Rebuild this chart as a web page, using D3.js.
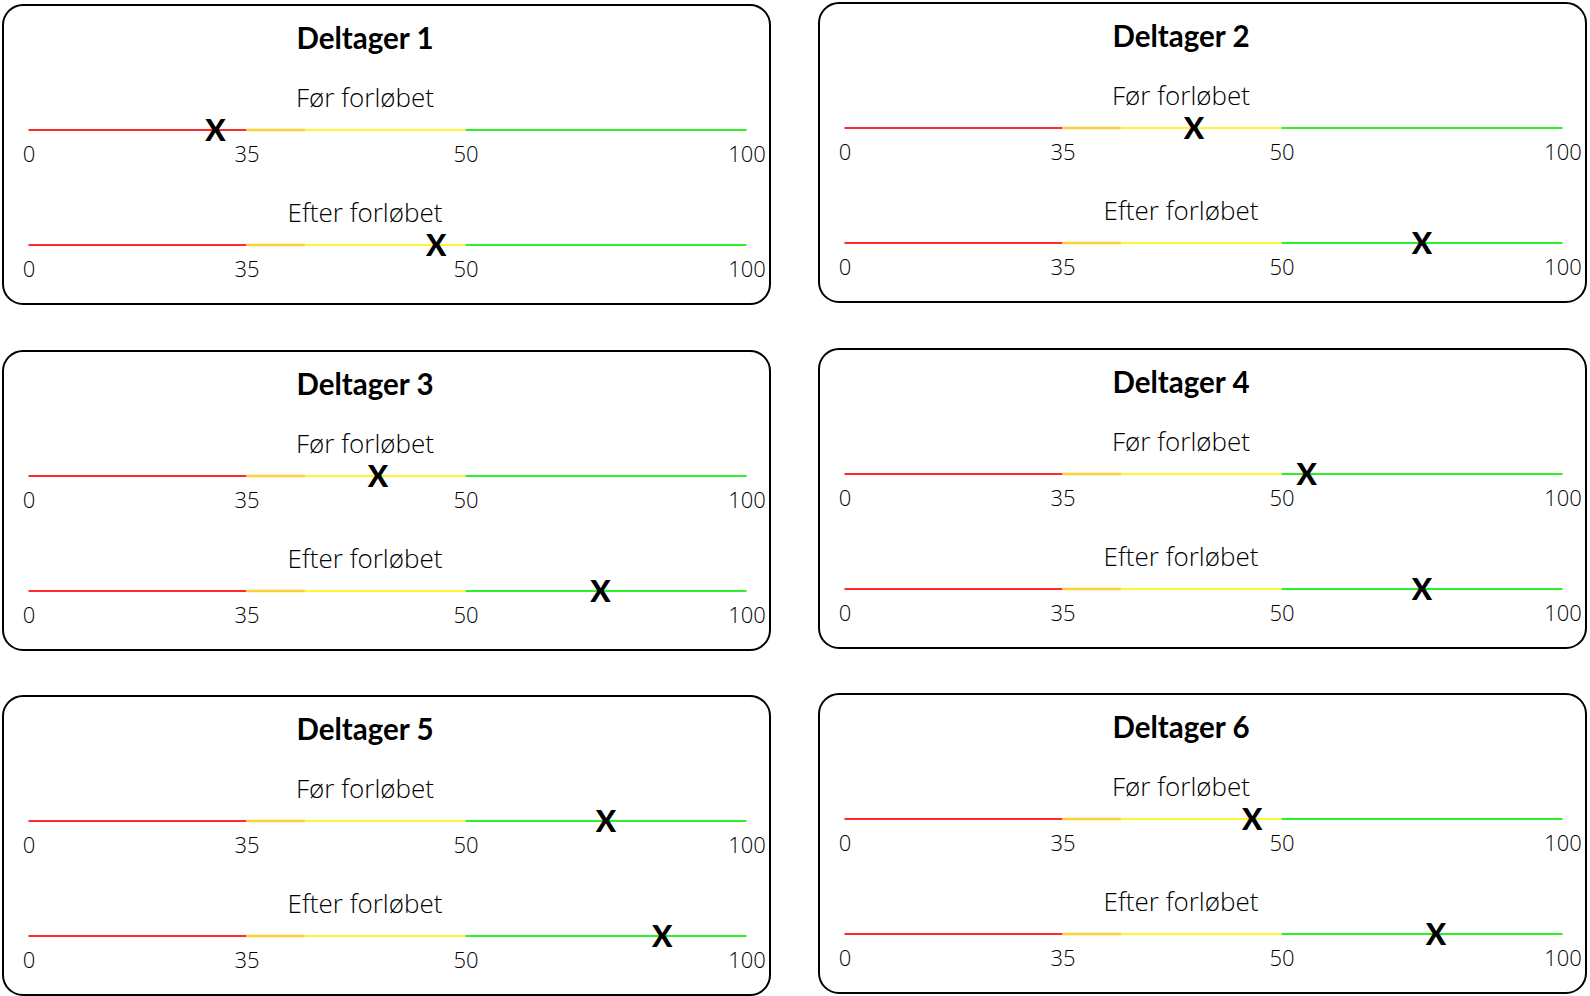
<!DOCTYPE html>
<html>
<head>
<meta charset="utf-8">
<script src="https://cdn.jsdelivr.net/npm/d3@7"></script>
<style>
  html, body { margin: 0; padding: 0; background: #ffffff; }
  svg { display: block; }
</style>
</head>
<body>
<svg id="chart" width="1590" height="996"></svg>
<script>
// ---- data ----
const participants = ["Deltager 1", "Deltager 2", "Deltager 3", "Deltager 4", "Deltager 5", "Deltager 6"];
const rowLabels = ["Før forløbet", "Efter forløbet"];
const beforeValues = [30, 44, 44, 54.5, 75, 48];
const afterValues = [48, 75, 74, 75, 85, 77.5];
const tickValues = [0, 35, 50, 100];
const zoneStarts = [0, 35, 39, 50];
const zoneEnds = [35, 39, 50, 100];
const zoneColors = ["#ff2a2a", "#ffcf3a", "#fff530", "#2cf02c"];

// ---- layout ----
const W = 1590, H = 996;
const colX = [3, 819];
const colTops = [[5, 351, 696], [3, 349, 694]];
const boxW = 767, boxH = 299;
const lineX0 = 25.5;
const scaleRange = [0, 218, 437, 718];
const rowLineY = [125, 240];
const titleFont = "Lato, 'Open Sans', sans-serif";
const textFont = "'Open Sans', Lato, sans-serif";

const svg = d3.select("#chart");
const x = d3.scaleLinear().domain(tickValues).range(scaleRange);

participants.forEach((name, i) => {
  const col = i % 2, row = Math.floor(i / 2);
  const gx = colX[col], gy = colTops[col][row];
  const g = svg.append("g").attr("transform", `translate(${gx},${gy})`);

  g.append("rect")
    .attr("x", 0).attr("y", 0)
    .attr("width", boxW).attr("height", boxH)
    .attr("rx", 20).attr("ry", 20)
    .attr("fill", "none").attr("stroke", "#000").attr("stroke-width", 2);

  g.append("text")
    .attr("x", 362).attr("y", 44)
    .attr("text-anchor", "middle")
    .attr("font-family", titleFont).attr("font-weight", 700)
    .attr("font-size", 29.5).attr("fill", "#000")
    .text(name);

  const vals = [beforeValues[i], afterValues[i]];
  rowLabels.forEach((lab, r) => {
    const ly = rowLineY[r];
    const rg = g.append("g").attr("transform", `translate(${lineX0},${ly})`);

    g.append("text")
      .attr("x", 362).attr("y", ly - 23)
      .attr("text-anchor", "middle")
      .attr("font-family", textFont).attr("font-weight", 300)
      .attr("font-size", 26).attr("fill", "#000")
      .text(lab);

    rg.selectAll("line.zone")
      .data(zoneStarts.map((s, k) => ({ s, e: zoneEnds[k], c: zoneColors[k] })))
      .join("line")
      .attr("class", "zone")
      .attr("x1", d => x(d.s)).attr("x2", d => x(d.e))
      .attr("y1", 0).attr("y2", 0)
      .attr("stroke", d => d.c)
      .attr("stroke-width", (d, k) => k === 1 ? 2.6 : 2.2);

    const axis = d3.axisBottom(x).tickValues(tickValues).tickSize(0).tickPadding(0).tickFormat(d3.format("d"));
    const ag = rg.append("g").call(axis);
    ag.select(".domain").remove();
    ag.selectAll("text")
      .attr("font-family", textFont).attr("font-size", 22).attr("font-weight", 300)
      .attr("fill", "#000")
      .attr("dy", null).attr("y", 32);

    rg.append("text")
      .attr("x", x(vals[r])).attr("y", 0)
      .attr("dy", "0.36em")
      .attr("text-anchor", "middle")
      .attr("font-family", titleFont).attr("font-weight", 900)
      .attr("font-size", 30).attr("fill", "#000")
      .text("X");
  });
});
</script>
</body>
</html>
